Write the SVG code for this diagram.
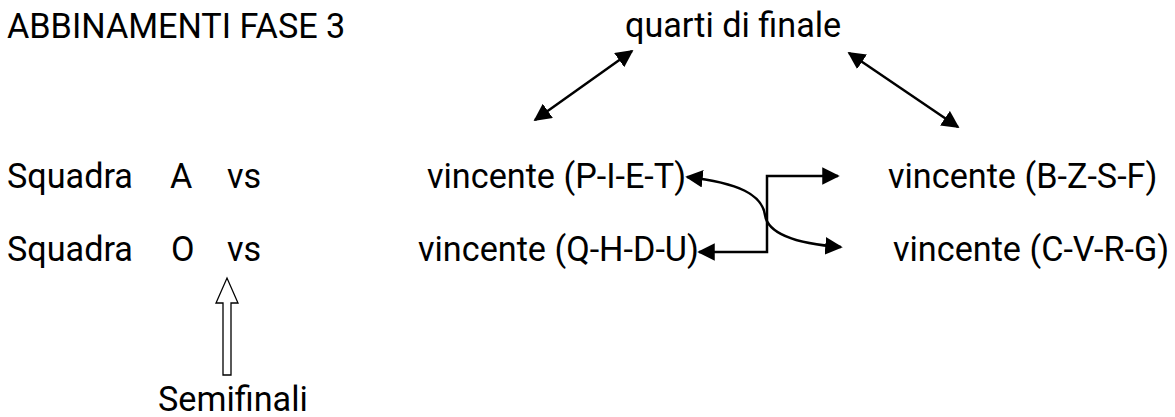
<svg xmlns="http://www.w3.org/2000/svg" width="1175" height="417" viewBox="0 0 1175 417">
<style>
text{font-family:Roboto,"Liberation Sans",sans-serif;font-size:34.2px;fill:#000}
.c{fill:none;stroke:#000;stroke-width:2.5}
</style>
<defs>
<marker id="ah2" viewBox="0 0 10 10" refX="9" refY="5" markerWidth="7" markerHeight="7" orient="auto-start-reverse">
<path d="M0,0L10,5L0,10z" fill="#000"/>
</marker>
</defs>
<rect width="1175" height="417" fill="#fff"/>
<g id="title"><text x="7" y="38">ABBINAMENTI FASE 3</text></g>
<g id="quarti"><text x="625" y="37">quarti di finale</text></g>
<g id="rowA"><text x="7" y="188">Squadra</text><text x="170" y="188">A</text><text x="227" y="188">vs</text></g>
<g id="rowO"><text x="7" y="261">Squadra</text><text x="171" y="261">O</text><text x="227" y="261">vs</text></g>
<g id="piet"><text x="427" y="188">vincente (P-I-E-T)</text></g>
<g id="qhdu"><text x="418" y="261">vincente (Q-H-D-U)</text></g>
<g id="bzsf"><text x="888" y="188">vincente (B-Z-S-F)</text></g>
<g id="cvrg"><text x="893" y="261">vincente (C-V-R-G)</text></g>
<g id="semi"><text x="158" y="411">Semifinali</text></g>
<g id="connectors">
<line class="c" x1="535" y1="120" x2="632" y2="51" marker-start="url(#ah2)" marker-end="url(#ah2)"/>
<line class="c" x1="849" y1="53" x2="958" y2="127" marker-start="url(#ah2)" marker-end="url(#ah2)"/>
<path class="c" d="M687,177 C740,183 762,195 765,215 C768,235 800,244 841,247" marker-start="url(#ah2)" marker-end="url(#ah2)"/>
<path class="c" d="M699,252 H767 V176 H838" marker-start="url(#ah2)" marker-end="url(#ah2)"/>
<path d="M223,375 V303 H216 L227,278 L238,303 H231 V375 Z" fill="#fff" stroke="#000" stroke-width="1.3"/>
</g>
</svg>
